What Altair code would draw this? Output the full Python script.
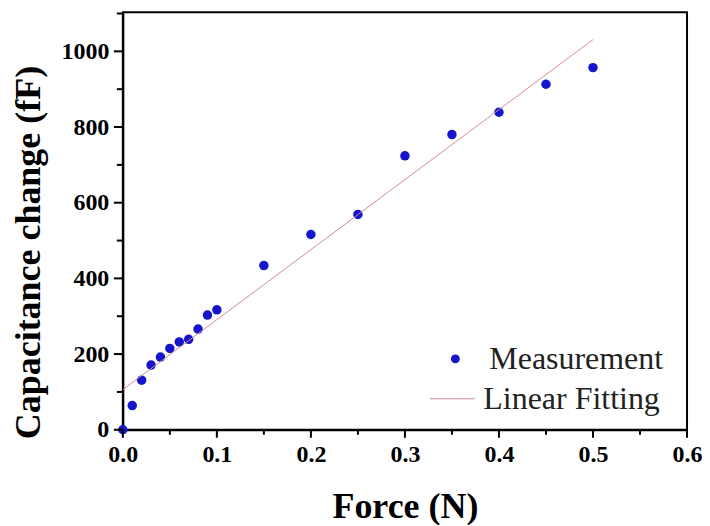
import altair as alt
import pandas as pd

force = [0.0, 0.01, 0.02, 0.03, 0.04, 0.05, 0.06, 0.07, 0.08, 0.09, 0.10,
         0.15, 0.20, 0.25, 0.30, 0.35, 0.40, 0.45, 0.50]
capacitance = [0, 64, 131, 171, 192, 215, 232, 239, 266, 303, 317,
               434, 516, 569, 724, 780, 839, 913, 957]
fit_force = [0.0, 0.5]
fit_cap = [106, 1031]

x_major = [0.0, 0.1, 0.2, 0.3, 0.4, 0.5, 0.6]
x_minor = [0.05, 0.15, 0.25, 0.35, 0.45, 0.55]
y_major = [0, 200, 400, 600, 800, 1000]
y_minor = [100, 300, 500, 700, 900, 1100]

W, H = 565, 418

pts = pd.DataFrame({"force": force, "cap": capacitance, "series": "Measurement"})
fit = pd.DataFrame({"force": fit_force, "cap": fit_cap, "series": "Linear Fitting"})
xmaj = pd.DataFrame({"force": x_major})
xmin = pd.DataFrame({"force": x_minor})
ymaj = pd.DataFrame({"cap": y_major})
ymin = pd.DataFrame({"cap": y_minor})

FONT = "Liberation Serif"
x_scale = alt.Scale(domain=[0, 0.6], nice=False, zero=False)
y_scale = alt.Scale(domain=[0, 1103], nice=False)

common = dict(
    grid=False, ticks=False,
    domainColor="#000000", domainWidth=2,
    labelFont=FONT, labelFontSize=24, labelFontWeight="bold", labelColor="#000000",
    labelFlush=False,
    titleFont=FONT, titleFontSize=36, titleFontWeight="bold", titleColor="#000000",
    titleBaseline="middle",
)

points = alt.Chart(pts).mark_circle(size=90, opacity=1).encode(
    x=alt.X("force:Q", scale=x_scale, axis=alt.Axis(
        title="Force (N)", values=x_major, format=".1f", labelPadding=13,
        titleY=77, **common)),
    y=alt.Y("cap:Q", scale=y_scale, axis=alt.Axis(
        title="Capacitance change (fF)", values=y_major, format="d", labelPadding=14,
        titleX=-94, titleY=240, **common)),
    color=alt.Color(
        "series:N",
        scale=alt.Scale(domain=["Measurement"], range=["#1515cc"]),
        legend=alt.Legend(
            title=None, orient="none", legendX=317, legendY=331, padding=0,
            symbolType="circle", symbolSize=80, labelOffset=18, labelLimit=400,
            labelFont=FONT, labelFontSize=32, labelColor="#222222",
            symbolStrokeWidth=0,
        ),
    ),
)

line = alt.Chart(fit).mark_line(strokeWidth=1).encode(
    x="force:Q",
    y="cap:Q",
    stroke=alt.Stroke(
        "series:N",
        scale=alt.Scale(domain=["Linear Fitting"], range=["#cc9098"]),
        legend=alt.Legend(
            title=None, orient="none", legendX=307, legendY=364, padding=0,
            symbolType="stroke", symbolSize=2025, symbolStrokeWidth=1, labelLimit=400,
            labelOffset=8, labelFont=FONT, labelFontSize=32, labelColor="#222222",
        ),
    ),
)

tick_style = dict(color="#000000", strokeWidth=2)
xt_major = alt.Chart(xmaj).mark_rule(**tick_style).encode(
    x="force:Q", y=alt.value(H), y2=alt.value(H + 8))
xt_minor = alt.Chart(xmin).mark_rule(**tick_style).encode(
    x="force:Q", y=alt.value(H), y2=alt.value(H + 5))
yt_major = alt.Chart(ymaj).mark_rule(**tick_style).encode(
    y="cap:Q", x=alt.value(0), x2=alt.value(-9))
yt_minor = alt.Chart(ymin).mark_rule(**tick_style).encode(
    y="cap:Q", x=alt.value(0), x2=alt.value(-6))

chart = (
    alt.layer(points, line, xt_major, xt_minor, yt_major, yt_minor)
    .resolve_scale(color="independent", stroke="independent")
    .properties(width=W, height=H, background="white",
                padding={"left": 2, "top": 4, "right": 0, "bottom": 0})
    .configure_view(stroke="#000000", strokeWidth=2)
)

chart.save("out.html", embed_options={"renderer": "svg", "actions": False})
